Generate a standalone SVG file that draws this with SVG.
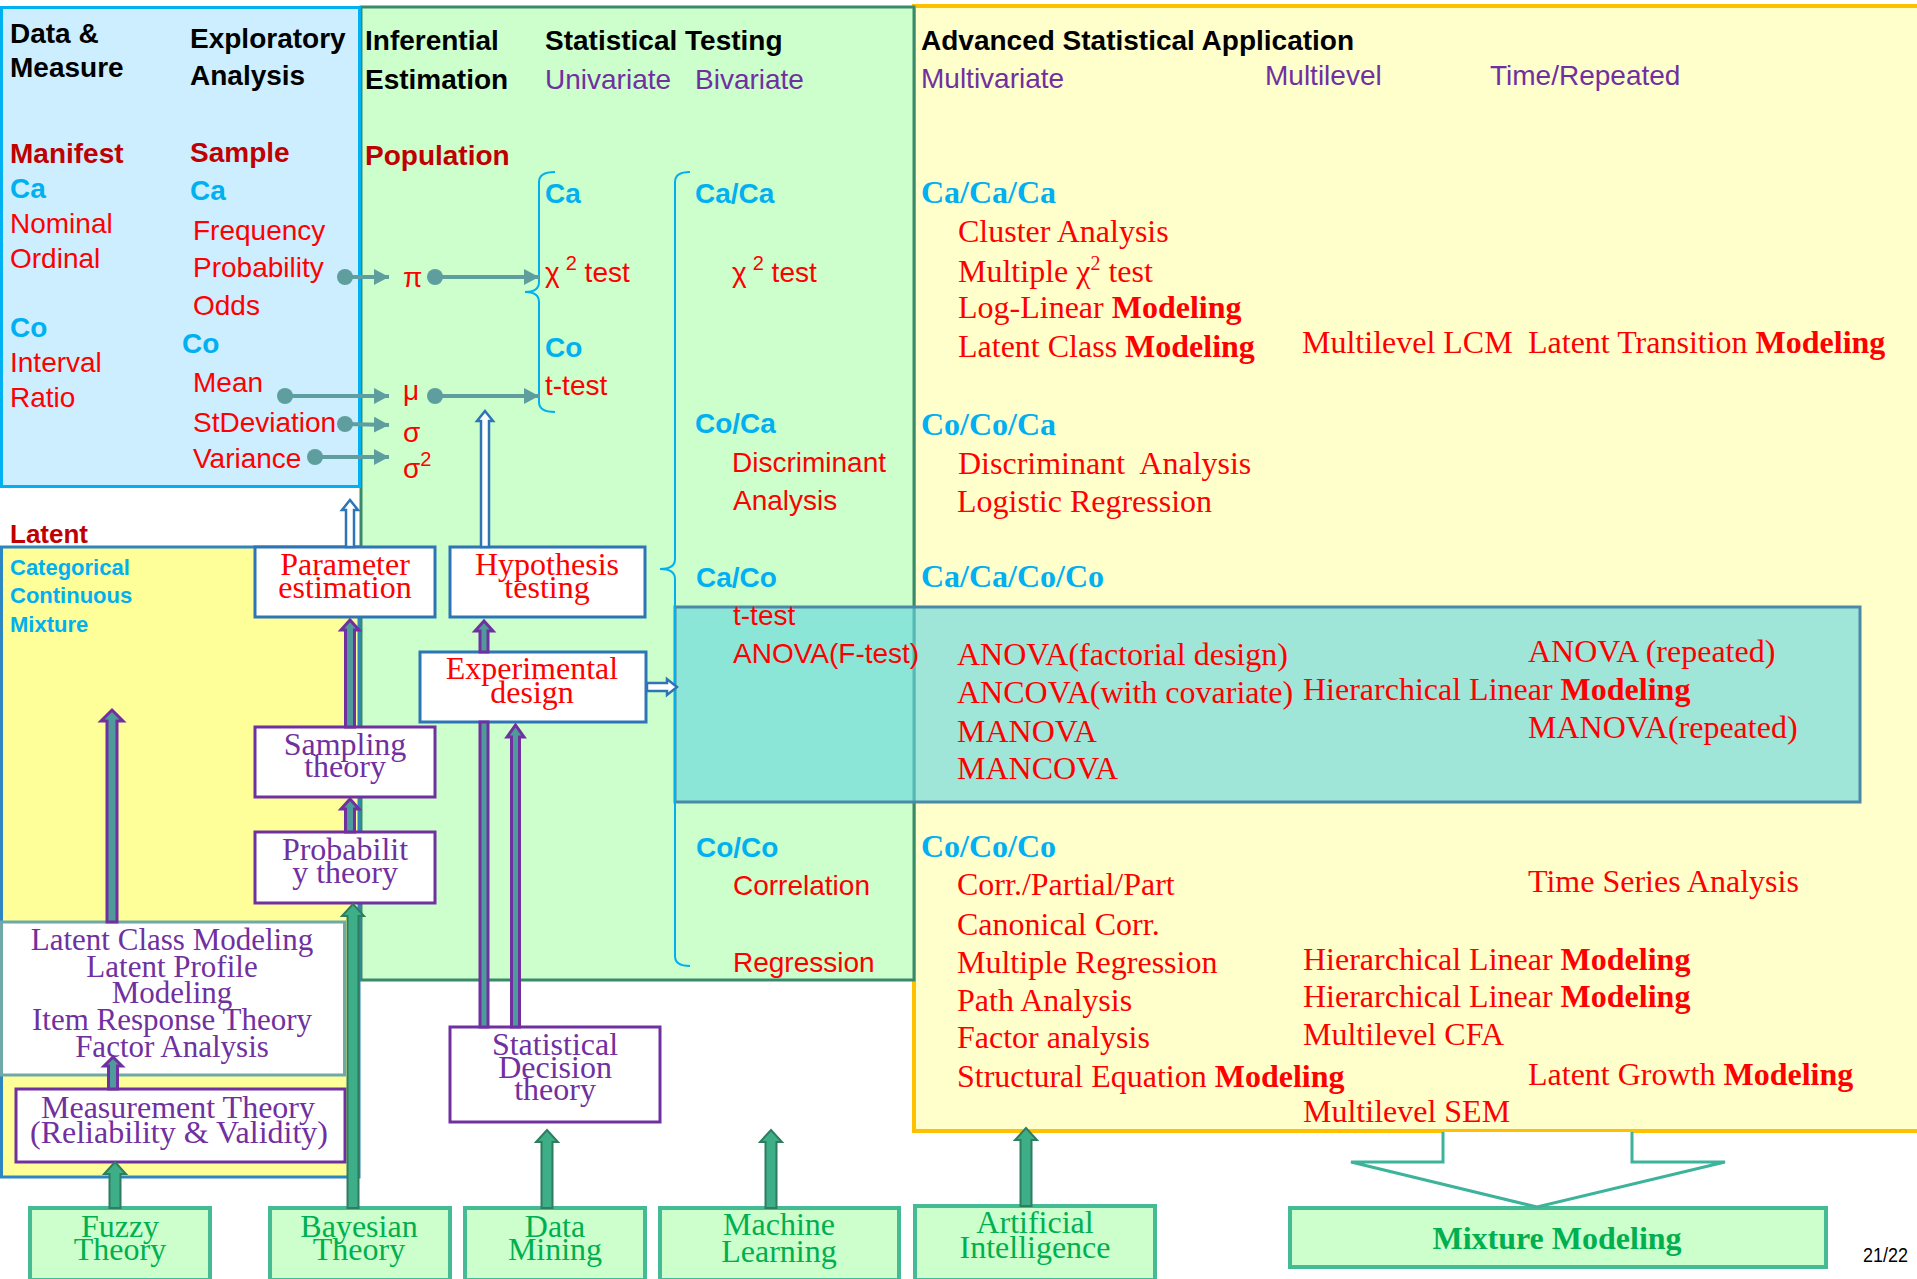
<svg xmlns="http://www.w3.org/2000/svg" width="1917" height="1279" viewBox="0 0 1917 1279">
<style>
.h{font:bold 28px "Liberation Sans",sans-serif;fill:#000}
.pu{font:28px "Liberation Sans",sans-serif;fill:#7030A0}
.ca{font:bold 28px "Liberation Sans",sans-serif;fill:#00B0F0}
.r{font:28px "Liberation Sans",sans-serif;fill:#FF0000}
.dr{font:bold 28px "Liberation Sans",sans-serif;fill:#C00000}
.lat{font:bold 22px "Liberation Sans",sans-serif;fill:#00B0F0}
.t{font:32px "Liberation Serif",serif;fill:#FF0000}
.tc{font:bold 32px "Liberation Serif",serif;fill:#00B0F0}
.tp{font:31px "Liberation Serif",serif;fill:#7030A0;text-anchor:middle}
.tr{font:32px "Liberation Serif",serif;fill:#FF0000;text-anchor:middle}
.tg{font:32px "Liberation Serif",serif;fill:#00B050;text-anchor:middle}
.b{font-weight:bold}
.box{fill:#fff;stroke-width:3}
.bb{stroke:#2E75B6}
.pb{stroke:#7030A0}
.gbox{fill:#CCFFCC;stroke:#44BB94;stroke-width:4}
.brace{fill:none;stroke:#00B0F0;stroke-width:2}
.tl{stroke:#5F9E9E;stroke-width:4;fill:none}
.dot{fill:#5F9E9E}
.ba{fill:#fff;stroke:#2E75B6;stroke-width:2.5}
.pa{fill:#4F9B9B;stroke:#7030A0;stroke-width:3}
.ga{fill:#3DAE88;stroke:#2E7D5E;stroke-width:2}
</style>
<defs>
<marker id="th" markerWidth="16" markerHeight="16" refX="15" refY="8" orient="auto" markerUnits="userSpaceOnUse"><path d="M0,0 L15,8 L0,16 Z" fill="#5F9E9E"/></marker>
</defs>
<rect width="1917" height="1279" fill="#fff"/>

<g id="panel-advanced">
<rect x="914" y="6" width="1010" height="1125" fill="#FFFFCC" stroke="#FFC000" stroke-width="4"/>
</g>
<g id="panel-inferential">
<rect x="361" y="7" width="553" height="973" fill="#CCFFCC" stroke="#3A8A6A" stroke-width="3"/>
</g>
<g id="panel-exploratory">
<rect x="1.5" y="7.5" width="358" height="479" fill="#CCEEFF" stroke="#00B0F0" stroke-width="3"/>
</g>
<g id="panel-latent">
<rect x="1.5" y="547" width="357.5" height="630" fill="#FFFF99" stroke="#2E86C1" stroke-width="3"/>
</g>
<g id="band-anova">
<rect x="675" y="607" width="1185" height="195" fill="rgb(100,215,222)" fill-opacity="0.62" stroke="#4A8AA8" stroke-width="3"/>
</g>

<g id="text-data">
<text class="h" x="10" y="43">Data &amp;</text>
<text class="h" x="10" y="77">Measure</text>
<text class="dr" x="10" y="163">Manifest</text>
<text class="ca" x="10" y="198">Ca</text>
<text class="r" x="10" y="233">Nominal</text>
<text class="r" x="10" y="268">Ordinal</text>
<text class="ca" x="10" y="337">Co</text>
<text class="r" x="10" y="372">Interval</text>
<text class="r" x="10" y="407">Ratio</text>
</g>
<g id="text-exploratory">
<text class="h" x="190" y="48">Exploratory</text>
<text class="h" x="190" y="85">Analysis</text>
<text class="dr" x="190" y="162">Sample</text>
<text class="ca" x="190" y="200">Ca</text>
<text class="r" x="193" y="240">Frequency</text>
<text class="r" x="193" y="277">Probability</text>
<text class="r" x="193" y="315">Odds</text>
<text class="ca" x="182" y="353">Co</text>
<text class="r" x="193" y="392">Mean</text>
<text class="r" x="193" y="432">StDeviation</text>
<text class="r" x="193" y="468">Variance</text>
</g>
<g id="text-latent">
<text class="dr" x="10" y="543" style="font-size:26px">Latent</text>
<text class="lat" x="10" y="575">Categorical</text>
<text class="lat" x="10" y="603">Continuous</text>
<text class="lat" x="10" y="632">Mixture</text>
</g>
<g id="text-inferential">
<text class="h" x="365" y="50">Inferential</text>
<text class="h" x="365" y="89">Estimation</text>
<text class="dr" x="365" y="165">Population</text>
<text class="r" x="403" y="287">π</text>
<text class="r" x="403" y="400">μ</text>
<text class="r" x="403" y="442">σ</text>
<text class="r" x="403" y="478">σ<tspan dy="-12" font-size="20">2</tspan></text>
</g>
<g id="text-testing">
<text class="h" x="545" y="50">Statistical Testing</text>
<text class="pu" x="545" y="89">Univariate</text>
<text class="pu" x="695" y="89">Bivariate</text>
<text class="ca" x="545" y="203">Ca</text>
<text class="r" x="545" y="282">χ<tspan dy="-12" font-size="20" dx="6">2</tspan><tspan dy="12"> test</tspan></text>
<text class="ca" x="545" y="357">Co</text>
<text class="r" x="545" y="395">t-test</text>
<text class="ca" x="695" y="203">Ca/Ca</text>
<text class="r" x="732" y="282">χ<tspan dy="-12" font-size="20" dx="6">2</tspan><tspan dy="12"> test</tspan></text>
<text class="ca" x="695" y="433">Co/Ca</text>
<text class="r" x="732" y="472">Discriminant</text>
<text class="r" x="733" y="510">Analysis</text>
<text class="ca" x="696" y="587">Ca/Co</text>
<text class="r" x="733" y="625">t-test</text>
<text class="r" x="733" y="663">ANOVA(F-test)</text>
<text class="ca" x="696" y="857">Co/Co</text>
<text class="r" x="733" y="895">Correlation</text>
<text class="r" x="733" y="972">Regression</text>
<path class="brace" d="M555,172 Q539,172 539,182 L539,282 Q539,292 525,292 Q539,292 539,302 L539,402 Q539,412 555,412"/>
<path class="brace" d="M690,172 Q675,172 675,182 L675,559 Q675,569 660,569 Q675,569 675,579 L675,956 Q675,966 690,966"/>
</g>
<g id="text-advanced">
<text class="h" x="921" y="50">Advanced Statistical Application</text>
<text class="pu" x="921" y="88">Multivariate</text>
<text class="pu" x="1265" y="85">Multilevel</text>
<text class="pu" x="1490" y="85">Time/Repeated</text>
<text class="tc" x="921" y="203">Ca/Ca/Ca</text>
<text class="t" x="958" y="242">Cluster Analysis</text>
<text class="t" x="958" y="282">Multiple χ<tspan dy="-12" font-size="20">2</tspan><tspan dy="12"> test</tspan></text>
<text class="t" x="958" y="318">Log-Linear <tspan class="b">Modeling</tspan></text>
<text class="t" x="958" y="357">Latent Class <tspan class="b">Modeling</tspan></text>
<text class="t" x="1302" y="353">Multilevel LCM</text>
<text class="t" x="1528" y="353">Latent Transition <tspan class="b">Modeling</tspan></text>
<text class="tc" x="921" y="435">Co/Co/Ca</text>
<text class="t" x="958" y="474" style="white-space:pre">Discriminant  Analysis</text>
<text class="t" x="957" y="512">Logistic Regression</text>
<text class="tc" x="921" y="587">Ca/Ca/Co/Co</text>
<text class="t" x="957" y="665">ANOVA(factorial design)</text>
<text class="t" x="957" y="703">ANCOVA(with covariate)</text>
<text class="t" x="1303" y="700">Hierarchical Linear <tspan class="b">Modeling</tspan></text>
<text class="t" x="957" y="742">MANOVA</text>
<text class="t" x="957" y="779">MANCOVA</text>
<text class="t" x="1528" y="662">ANOVA (repeated)</text>
<text class="t" x="1528" y="738">MANOVA(repeated)</text>
<text class="tc" x="921" y="857">Co/Co/Co</text>
<text class="t" x="957" y="895">Corr./Partial/Part</text>
<text class="t" x="1528" y="892">Time Series Analysis</text>
<text class="t" x="957" y="935">Canonical Corr.</text>
<text class="t" x="957" y="973">Multiple Regression</text>
<text class="t" x="1303" y="970">Hierarchical Linear <tspan class="b">Modeling</tspan></text>
<text class="t" x="957" y="1011">Path Analysis</text>
<text class="t" x="1303" y="1007">Hierarchical Linear <tspan class="b">Modeling</tspan></text>
<text class="t" x="957" y="1048">Factor analysis</text>
<text class="t" x="1303" y="1045">Multilevel CFA</text>
<text class="t" x="957" y="1087">Structural Equation <tspan class="b">Modeling</tspan></text>
<text class="t" x="1528" y="1085">Latent Growth <tspan class="b">Modeling</tspan></text>
<text class="t" x="1303" y="1122">Multilevel SEM</text>
</g>

<g id="node-parameter">
<rect class="box bb" x="255" y="547" width="180" height="70"/>
<text class="tr" x="345" y="575">Parameter</text>
<text class="tr" x="345" y="598">estimation</text>
</g>
<g id="node-hypothesis">
<rect class="box bb" x="450" y="547" width="195" height="70"/>
<text class="tr" x="547" y="575">Hypothesis</text>
<text class="tr" x="547" y="598">testing</text>
</g>
<g id="node-experimental">
<rect class="box bb" x="420" y="652" width="226" height="70"/>
<text class="tr" x="532" y="679">Experimental</text>
<text class="tr" x="532" y="703">design</text>
</g>
<g id="node-sampling">
<rect class="box pb" x="255" y="727" width="180" height="70"/>
<text class="tp" x="345" y="755" style="font-size:32px">Sampling</text>
<text class="tp" x="345" y="777" style="font-size:32px">theory</text>
</g>
<g id="node-probability">
<rect class="box pb" x="255" y="832" width="180" height="71"/>
<text class="tp" x="345" y="860" style="font-size:32px">Probabilit</text>
<text class="tp" x="345" y="883" style="font-size:32px">y theory</text>
</g>
<g id="node-latent-models">
<rect x="1.5" y="922" width="343" height="153" fill="#fff" stroke="#6FA8A8" stroke-width="3"/>
<text class="tp" x="172" y="950">Latent Class Modeling</text>
<text class="tp" x="172" y="977">Latent Profile</text>
<text class="tp" x="172" y="1003">Modeling</text>
<text class="tp" x="172" y="1030">Item Response Theory</text>
<text class="tp" x="172" y="1057">Factor Analysis</text>
</g>
<g id="node-measurement">
<rect class="box pb" x="16" y="1089" width="329" height="73"/>
<text class="tp" x="178" y="1118" style="font-size:32px">Measurement Theory</text>
<text class="tp" x="179" y="1143" style="font-size:32px">(Reliability &amp; Validity)</text>
</g>
<g id="node-decision">
<rect class="box pb" x="450" y="1027" width="210" height="95"/>
<text class="tp" x="555" y="1055" style="font-size:32px">Statistical</text>
<text class="tp" x="555" y="1078" style="font-size:32px">Decision</text>
<text class="tp" x="555" y="1100" style="font-size:32px">theory</text>
</g>
<g id="node-fuzzy">
<rect class="gbox" x="30" y="1208" width="180" height="72"/>
<text class="tg" x="120" y="1237">Fuzzy</text>
<text class="tg" x="120" y="1260">Theory</text>
</g>
<g id="node-bayesian">
<rect class="gbox" x="270" y="1208" width="180" height="72"/>
<text class="tg" x="359" y="1237">Bayesian</text>
<text class="tg" x="359" y="1260">Theory</text>
</g>
<g id="node-datamining">
<rect class="gbox" x="465" y="1208" width="180" height="72"/>
<text class="tg" x="555" y="1237">Data</text>
<text class="tg" x="555" y="1260">Mining</text>
</g>
<g id="node-machine">
<rect class="gbox" x="660" y="1208" width="239" height="72"/>
<text class="tg" x="779" y="1235">Machine</text>
<text class="tg" x="779" y="1262">Learning</text>
</g>
<g id="node-ai">
<rect class="gbox" x="915" y="1206" width="240" height="74"/>
<text class="tg" x="1035" y="1233">Artificial</text>
<text class="tg" x="1035" y="1258">Intelligence</text>
</g>
<g id="node-mixture">
<rect class="gbox" x="1290" y="1208" width="536" height="59"/>
<text class="tg b" x="1557" y="1249">Mixture Modeling</text>
</g>
<text x="1863" y="1262" font-family="Liberation Sans, sans-serif" font-size="21" fill="#000" textLength="45" lengthAdjust="spacingAndGlyphs">21/22</text>

<g id="connectors">
<line class="tl" x1="345" y1="277" x2="389" y2="277" marker-end="url(#th)"/>
<line class="tl" x1="435" y1="277" x2="539" y2="277" marker-end="url(#th)"/>
<line class="tl" x1="285" y1="396" x2="389" y2="396" marker-end="url(#th)"/>
<line class="tl" x1="435" y1="396" x2="539" y2="396" marker-end="url(#th)"/>
<line class="tl" x1="345" y1="424" x2="389" y2="425" marker-end="url(#th)"/>
<line class="tl" x1="315" y1="457" x2="389" y2="457" marker-end="url(#th)"/>
<circle class="dot" cx="345" cy="277" r="8"/>
<circle class="dot" cx="435" cy="277" r="8"/>
<circle class="dot" cx="285" cy="396" r="8"/>
<circle class="dot" cx="435" cy="396" r="8"/>
<circle class="dot" cx="345" cy="424" r="8"/>
<circle class="dot" cx="315" cy="457" r="8"/>

<polygon class="ba" points="346,547 346,510 342,510 350,500 358,510 354,510 354,547"/>
<polygon class="ba" points="481,547 481,421 477,421 485,411 493,421 489,421 489,547"/>
<polygon class="ba" points="647,683 667,683 667,679 677,687 667,695 667,691 647,691"/>

<polygon class="pa" points="107,922 107,721 101,721 112,710 123,721 117,721 117,922"/>
<polygon class="pa" points="345.5,727 345.5,630 341,630 350,620 359,630 354.5,630 354.5,727"/>
<polygon class="pa" points="345.5,832 345.5,809 341,809 350,799 359,809 354.5,809 354.5,832"/>
<polygon class="pa" points="480,652 480,631 475,631 484,621 493,631 488,631 488,652"/>
<rect class="pa" x="480" y="722" width="8" height="305"/>
<polygon class="pa" points="511.5,1027 511.5,737 507,737 515.5,725 524,737 519.5,737 519.5,1027"/>
<polygon class="pa" points="108.5,1089 108.5,1066 104,1066 113,1057 122,1066 117.5,1066 117.5,1089"/>

<polygon class="ga" points="109.5,1208 109.5,1174 104,1174 115,1162 126,1174 120.5,1174 120.5,1208"/>
<polygon class="ga" points="347.5,1208 347.5,916 342,916 353,904 364,916 358.5,916 358.5,1208"/>
<polygon class="ga" points="541.5,1208 541.5,1142 536,1142 547,1130 558,1142 552.5,1142 552.5,1208"/>
<polygon class="ga" points="765.5,1208 765.5,1142 760,1142 771,1130 782,1142 776.5,1142 776.5,1208"/>
<polygon class="ga" points="1020.5,1206 1020.5,1140 1015,1140 1026,1128 1037,1140 1031.5,1140 1031.5,1206"/>

<polyline points="1443,1132 1443,1162 1351,1162 1537,1207 1725,1162 1632,1162 1632,1132" fill="#fff" stroke="#3CB39A" stroke-width="3"/>
</g>
</svg>
